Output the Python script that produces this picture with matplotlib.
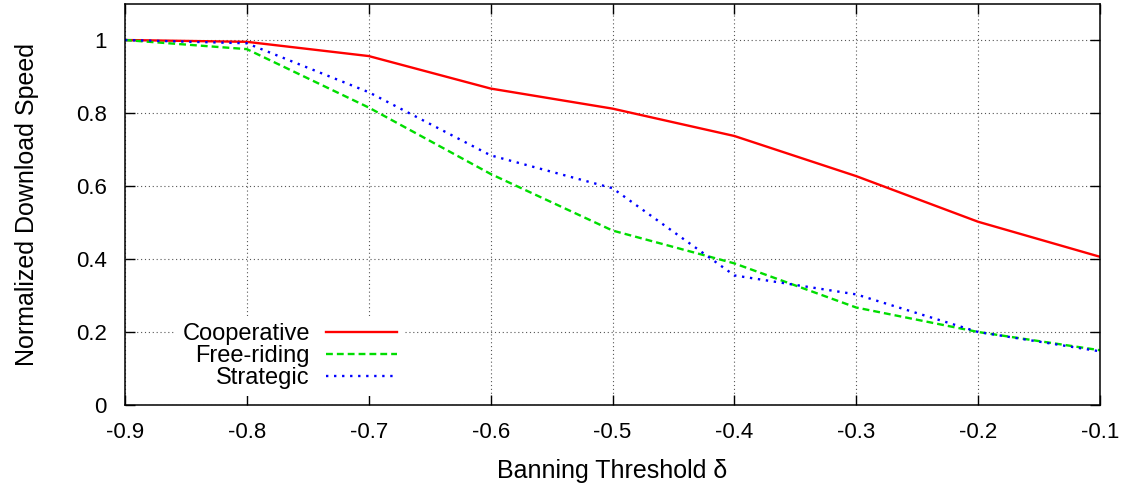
import matplotlib
matplotlib.use("Agg")
import matplotlib.pyplot as plt
import numpy as np

# =============== data ===============
threshold = [-0.9, -0.8, -0.7, -0.6, -0.5, -0.4, -0.3, -0.2, -0.1]
cooperative = [1.0, 0.995, 0.956, 0.867, 0.812, 0.737, 0.627, 0.502, 0.406]
free_riding = [1.0, 0.975, 0.815, 0.633, 0.478, 0.388, 0.267, 0.200, 0.150]
strategic = [1.0, 0.991, 0.857, 0.684, 0.594, 0.355, 0.303, 0.200, 0.147]

x_ticks = [-0.9, -0.8, -0.7, -0.6, -0.5, -0.4, -0.3, -0.2, -0.1]
x_tick_labels = ['-0.9', '-0.8', '-0.7', '-0.6', '-0.5', '-0.4', '-0.3', '-0.2', '-0.1']
y_ticks = [0, 0.2, 0.4, 0.6, 0.8, 1.0]
y_tick_labels = ['0', '0.2', '0.4', '0.6', '0.8', '1']

plt.rcParams['font.family'] = ['Liberation Sans', 'DejaVu Sans']
plt.rcParams['font.size'] = 18

fig = plt.figure(figsize=(11.25, 4.87), dpi=100)
ax = fig.add_axes([0.1111, 0.1684, 0.8667, 0.8244])

ax.plot(threshold, cooperative, color='#ff0000', lw=1.7, label='Cooperative')
ax.plot(threshold, free_riding, color='#00dd00', lw=1.7, ls=(0, (2.9, 1.7)), label='Free-riding')
ax.plot(threshold, strategic, color='#0000ff', lw=1.7, ls=(0, (1.0, 2.4)), label='Strategic')

ax.set_xlim(-0.9, -0.1)
ax.set_ylim(0, 1.1)
ax.set_xticks(x_ticks)
ax.set_xticklabels(x_tick_labels)
ax.set_yticks(y_ticks)
ax.set_yticklabels(y_tick_labels)

ax.grid(True, color='#555555', ls=(0, (1, 2.5)), lw=0.8)
ax.set_axisbelow(True)
ax.tick_params(direction='in', length=7, width=1, top=True, right=True, labelsize=16)
ax.tick_params(axis='x', pad=12)
ax.tick_params(axis='y', pad=13)
for s in ax.spines.values():
    s.set_linewidth(1.1)

ax.set_xlabel('Banning Threshold δ', labelpad=12)
ax.set_ylabel('Normalized Download Speed', labelpad=27)

leg = ax.legend(loc='center', bbox_to_anchor=(0.169, 0.122), markerfirst=False,
                fontsize=17, handlelength=3.0, handletextpad=0.7, labelspacing=0.0,
                borderpad=0.3, fancybox=False, framealpha=1.0)
leg.get_frame().set_edgecolor('none')
leg.get_frame().set_facecolor('white')

fig.savefig('out.png', dpi=100)
